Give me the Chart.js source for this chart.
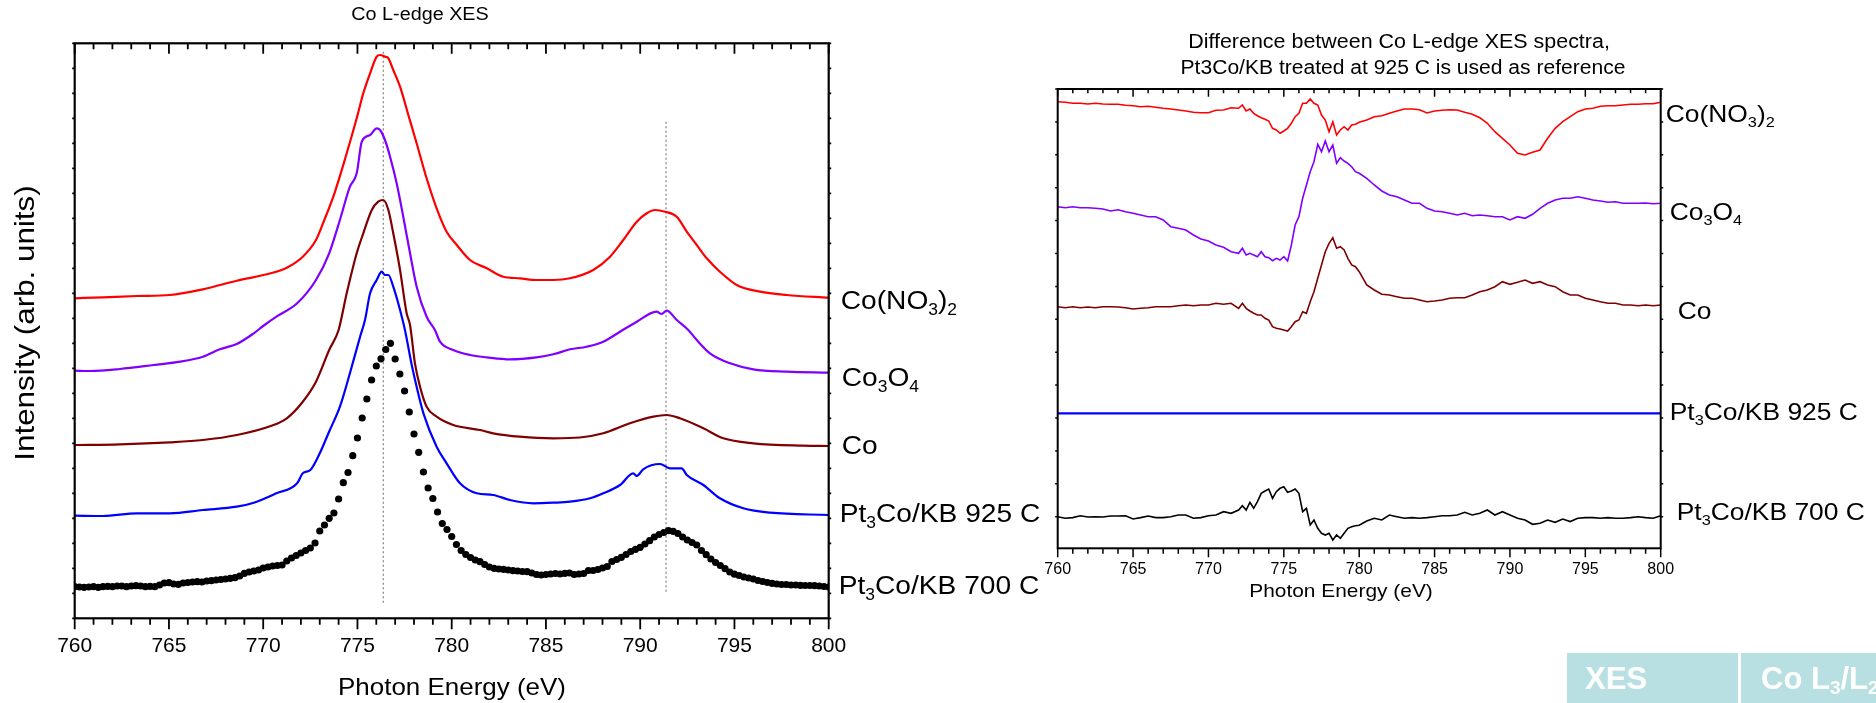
<!DOCTYPE html>
<html>
<head>
<meta charset="utf-8">
<title>Co L-edge XES</title>
<script src="https://cdn.jsdelivr.net/npm/chart.js@4.4.1/dist/chart.umd.min.js"></script>
<style>
  html, body { margin: 0; padding: 0; background: #fff; }
  body { position: relative; width: 1876px; height: 703px; overflow: hidden; font-family: "Liberation Sans", Arial, sans-serif; }
  canvas { position: absolute; left: 0; top: 0; }
  .tag { position: absolute; top: 653px; height: 50px; box-sizing: border-box; background: #b8dfe1; color: #fff;
         font-weight: bold; font-size: 31px; line-height: 52px; white-space: nowrap; overflow: hidden; }
  .tag sub { font-size: 19px; vertical-align: -5px; line-height: 0; }
</style>
</head>
<body>
<canvas id="xesChart" width="1876" height="703"></canvas>
<canvas id="diffChart" width="1876" height="703"></canvas>
<div class="tag" style="left:1567px;width:171px;padding-left:18px;">XES</div>
<div class="tag" style="left:1741px;width:135px;padding-left:20px;">Co L<sub>3</sub>/L<sub>2</sub></div>
<script>
// ---------------- Co L-edge XES spectra (offset for display) ----------------
const seriesNames = ['Co(NO3)2', 'Co3O4', 'Co', 'Pt3Co/KB 925 C', 'Pt3Co/KB 700 C'];

const coNitrateEnergy = [760,761.5,763.3,765.05,766.8,768.6,770.4,771.25,772.1,772.8,773.2,773.72,774.43,774.96,775.31,775.67,776.02,776.2,776.46,776.64,776.9,777.26,777.7,778.14,778.67,779.2,779.73,780.27,780.97,781.86,782.74,783.62,784.51,785.39,786.28,787.51,788.4,789.1,789.82,790.35,790.79,791.32,791.94,792.47,793.0,793.53,794.23,795.12,796.36,797.77,800];
const coNitrateXES = [320.0,321.0,322.3,323.3,329.0,337.6,345.0,350.6,361.6,378.3,396.3,421.6,465.0,500.0,525.0,545.0,561.6,563.3,561.6,560.0,548.3,531.6,503.3,475.0,440.0,410.0,386.6,373.3,358.3,350.0,341.6,340.0,338.3,338.3,340.0,348.3,361.6,378.3,396.6,405.0,408.3,406.6,401.6,386.6,373.3,360.0,346.6,333.3,326.6,323.3,320.6];

const co3o4Energy = [760,760.8,762.4,764.2,765.6,766.8,767.7,768.6,769.5,770.0,770.7,771.8,772.8,773.5,774.07,774.6,774.96,775.23,775.67,776.02,776.2,776.46,776.73,777.08,777.43,777.79,778.14,778.67,779.11,779.38,780.08,780.97,781.86,783.09,784.5,785.39,786.28,787.16,788.04,788.93,789.82,790.87,791.14,791.4,791.94,792.55,793.0,793.7,794.77,796.0,797.77,800];
const co3o4XES = [247.6,247.3,249.3,253.3,256.6,261.6,269.0,274.3,285.0,292.3,301.6,315.0,338.3,365.0,398.3,431.6,445.0,476.6,483.3,490.0,488.3,478.3,461.6,435.0,401.6,365.0,331.6,301.6,288.3,276.6,268.3,263.3,261.0,259.0,261.0,264.0,269.0,271.6,276.6,286.6,296.6,306.6,304.3,307.6,298.3,288.3,278.3,265.0,255.0,249.0,246.6,245.6];

const coMetalEnergy = [760,762.4,765.05,766.8,768.6,770.4,771.25,772.1,772.8,773.5,774.0,774.43,774.96,775.31,775.76,776.1,776.37,776.64,776.9,777.26,777.61,777.79,778.05,778.32,778.67,779.2,780.08,781.5,782.2,783.62,785.39,786.8,788.04,789.46,790.7,791.4,792.11,793.35,794.41,796.0,798.65,800];
const coMetalXES = [173.3,174.0,176.0,178.3,183.3,192.3,200.0,216.6,236.6,268.3,288.3,325.0,365.0,385.0,408.3,416.6,418.3,408.3,385.0,348.3,305.0,293.3,255.0,231.6,211.6,201.6,193.3,188.3,185.0,181.6,180.0,180.8,185.0,195.0,201.6,203.3,200.0,190.0,180.0,175.0,172.6,172.3];

const pt3co925Energy = [760,761.5,763.3,765.05,766.8,768.6,769.5,770.7,771.8,772.1,772.5,773.0,773.5,774.07,774.6,775.14,775.4,775.67,776.02,776.29,776.46,776.64,776.9,777.26,777.52,777.88,778.14,778.5,779.2,779.73,780.44,781.33,782.2,783.09,784.33,785.39,786.28,787.34,788.04,788.93,789.63,789.82,790.16,791.05,791.58,792.2,792.47,793.35,794.23,795.47,796.89,800];
const pt3co925XES = [102.6,102.3,105.0,105.0,108.3,111.6,115.6,125.0,135.0,145.0,148.3,165.0,186.8,211.6,245.0,281.6,298.3,325.0,338.3,346.6,343.3,343.3,331.6,308.3,288.3,253.3,231.6,205.0,171.6,155.0,135.0,125.0,123.3,118.3,115.0,115.6,116.6,120.0,125.0,133.3,145.0,142.3,149.0,154.3,150.0,150.0,143.3,133.3,120.0,110.0,105.6,103.3];

// Pt3Co/KB 700 C, measured on a 0.25 eV grid starting at 760 eV
const pt3co700Start = 760, pt3co700Step = 0.25;
const pt3co700XES = [
  31.6,31.3,31.0,31.3,31.6,31.0,31.6,32.0,31.6,32.3,
  32.3,31.6,32.3,32.6,32.3,31.6,32.0,31.6,33.3,35.3,
  35.6,34.3,34.0,35.3,35.8,36.3,36.6,36.3,37.3,37.6,
  38.3,38.8,39.3,40.0,40.6,42.3,45.0,46.3,47.3,48.3,
  50.3,51.3,52.3,52.8,53.3,57.3,60.3,62.8,65.3,67.8,
  70.3,75.3,87.3,93.3,100.0,105.3,119.3,135.6,145.8,162.6,
  180.3,200.3,219.3,238.3,252.3,259.5,268.8,275.0,259.3,244.3,
  227.3,206.3,184.3,166.0,146.3,130.3,119.8,106.3,94.8,88.8,
  81.8,73.8,67.8,63.8,60.8,58.3,56.6,53.8,51.3,50.0,
  49.3,49.0,48.3,47.6,47.3,46.8,46.6,45.3,43.8,43.3,
  43.8,44.3,44.8,44.3,45.0,45.3,43.8,44.3,44.8,47.8,
  47.8,48.8,50.3,51.8,56.8,58.8,61.0,63.8,66.8,69.0,
  71.0,74.3,77.6,81.3,83.8,85.8,87.6,87.0,84.8,81.3,
  78.3,75.8,73.3,67.8,63.6,59.3,55.8,52.8,49.6,46.3,
  44.1,42.8,41.3,40.3,39.3,37.8,36.8,35.8,35.0,34.3,
  33.8,33.8,33.3,33.3,33.0,32.8,32.8,32.6,32.3,31.8,
  31.3
];

// L3 / L2 peak markers: energy and vertical extent
const peakMarkerEnergy = [776.37, 791.37];
const peakMarkerLow = [15.6, 26.6];
const peakMarkerHigh = [568.3, 496.6];

// label anchor heights (same units as the spectra)
const xesLabelLevel = [316.3, 239.3, 171.3, 103.3, 31.3];

// x-axis tick labels
const energyTicks = [760, 765, 770, 775, 780, 785, 790, 795, 800];

// ---------------- Difference spectra (sample − Pt3Co/KB 925 C, offset) ----------------
const diffEnergy = [760,760.5,761,761.5,762,762.5,763,763.5,764,764.5,765,765.5,766,766.5,767,767.5,768,768.5,769,769.5,770,770.5,771,771.5,772,
  772.25,772.5,772.75,773,773.25,773.5,773.75,774,774.25,774.5,774.75,775,775.25,775.5,775.75,776,776.25,776.5,776.75,777,777.25,777.5,777.75,778,778.25,778.5,778.75,779,779.25,779.5,779.75,780,
  780.5,781,781.5,782,782.5,783,783.5,784,784.5,785,785.5,786,786.5,787,787.5,788,788.5,789,789.5,790,790.5,791,791.5,792,792.5,793,793.5,794,794.5,795,795.5,796,796.5,797,797.5,798,798.5,799,799.5,800];

const coNitrateDiff = [415.0,414.4,413.4,413.4,412.7,413.4,412.7,412.4,412.4,411.4,411.0,410.0,410.4,409.4,408.4,407.7,406.7,405.7,404.4,404.0,404.0,406.4,406.7,409.0,408.4,
  411.7,405.7,407.7,403.4,401.0,399.0,397.4,395.7,388.4,386.7,383.4,385.7,388.4,393.4,400.0,403.4,413.4,413.4,417.7,413.4,411.7,401.7,396.7,385.0,395.0,381.7,386.7,390.0,386.7,391.7,392.4,394.4,
  396.7,400.0,401.0,403.4,405.7,407.7,407.7,407.0,403.7,405.7,406.4,407.0,406.7,404.4,402.4,399.0,393.4,385.0,378.4,371.7,363.4,361.7,364.4,366.7,378.4,388.4,395.0,400.0,405.0,407.7,408.4,410.4,411.0,411.0,411.7,412.4,412.4,413.0,413.0,414.4];

const co3o4Diff = [310.0,309.0,310.0,309.0,309.0,308.4,307.7,305.7,307.0,305.0,303.4,301.7,300.0,300.0,296.7,290.0,288.4,286.7,281.7,277.7,275.7,271.7,269.4,265.0,263.4,
  268.4,261.7,263.4,261.7,260.0,265.0,260.0,259.0,256.0,258.4,256.7,260.0,255.7,271.7,291.7,300.0,318.4,331.7,345.0,355.0,372.4,365.0,375.7,365.0,371.7,353.4,359.0,355.7,353.4,350.0,345.0,343.4,
  338.4,331.7,325.7,321.7,320.0,316.7,313.4,313.4,308.4,305.7,305.0,303.4,301.7,303.4,301.0,301.7,301.0,300.0,300.0,296.7,300.0,298.4,302.4,308.4,313.4,316.7,318.4,318.4,320.0,318.4,316.7,315.7,314.4,315.0,313.4,313.4,313.4,313.7,313.0,313.4];

const coMetalDiff = [210.0,209.0,210.0,209.0,209.7,209.0,210.0,210.0,209.7,209.0,207.7,208.4,209.0,210.0,210.0,210.0,211.0,211.7,211.0,211.7,211.7,213.4,212.4,213.4,208.4,
  213.4,208.4,205.7,203.4,201.7,201.7,198.4,196.7,190.0,188.4,187.7,186.7,185.7,190.0,195.0,196.7,205.0,203.4,215.0,225.0,238.4,251.7,265.0,273.4,279.0,268.4,270.0,266.7,258.4,251.7,250.0,245.0,
  231.7,226.7,222.4,221.7,220.0,218.4,218.4,216.7,215.0,215.7,216.7,218.4,219.0,219.0,221.7,225.0,226.7,230.0,235.0,232.4,234.4,236.7,233.4,235.0,231.7,230.0,225.0,221.7,221.7,218.4,216.7,215.0,213.4,213.4,211.7,211.7,211.0,211.7,211.0,211.7];

// reference sample: zero difference, drawn at its offset
const pt3co925DiffEnergy = [760, 800];
const pt3co925Diff = [103.4, 103.4];

const pt3co700Diff = [0.0,-1.6,-0.9,1.0,-0.3,0.0,-0.3,0.7,0.7,1.0,-2.3,-0.9,0.7,-0.9,-0.9,0.0,1.7,1.7,-1.6,-0.9,1.0,1.7,5.0,3.4,6.7,
  11.0,6.7,14.4,8.4,15.0,23.4,25.7,27.7,18.4,25.0,28.4,30.0,24.4,25.7,27.7,23.4,5.0,8.4,-8.3,-3.3,-11.6,-16.6,-18.3,-16.6,-23.3,-18.3,-21.6,-16.6,-11.6,-10.0,-9.0,-8.6,
  -4.3,-1.6,-3.3,1.7,0.0,-1.6,-0.9,-1.6,-0.9,0.0,1.0,1.0,1.7,4.4,1.7,3.4,6.7,1.7,5.0,1.7,-1.6,-3.3,-7.6,-6.6,-3.3,-5.6,-2.3,-4.9,-1.6,-0.9,-0.9,-1.6,-0.9,-1.6,-1.6,-0.9,0.0,-0.9,-1.6,1.0];

const diffLabelLevel = [401.7, 303.7, 204.7, 103.7, 3.7];

// ---------------- drawing helpers ----------------
const FONT = '"Liberation Sans", Arial, sans-serif';
Chart.defaults.font.family = FONT;
Chart.defaults.color = '#000';

const colors = ['#ff0000', '#8000ff', '#800000', '#0000ff', '#000000'];

function points(xs, ys) { return ys.map((v, i) => ({ x: xs[i], y: v })); }

// split a formula such as "Co(NO3)2" into normal / subscript runs
function chemRuns(text) {
  const runs = [];
  let prev = '';
  for (const ch of text) {
    const sub = /\d/.test(ch) && (/[A-Za-z)]/.test(prev) || (runs.length > 0 && runs[runs.length - 1].sub && /\d/.test(prev)));
    const last = runs[runs.length - 1];
    if (last && last.sub === sub) last.t += ch; else runs.push({ t: ch, sub });
    prev = ch;
  }
  return runs;
}

function drawChem(ctx, text, x, y, size, stretch) {
  ctx.save();
  ctx.translate(x, y);
  ctx.scale(stretch, 1);
  ctx.textAlign = 'left';
  ctx.textBaseline = 'middle';
  ctx.fillStyle = '#000';
  let cx = 0;
  for (const r of chemRuns(text)) {
    const s = r.sub ? size * 0.62 : size;
    ctx.font = `${s}px ${FONT}`;
    ctx.fillText(r.t, cx, r.sub ? size * 0.33 : 0);
    cx += ctx.measureText(r.t).width;
  }
  ctx.restore();
}

const framePlugin = {
  id: 'frame',
  afterDraw(chart, args, o) {
    const { ctx, chartArea: a, scales: { x, y } } = chart;
    ctx.save();
    ctx.strokeStyle = '#000';
    ctx.lineWidth = o.tickWidth;
    ctx.beginPath();
    for (let e = x.min; e <= x.max + 1e-6; e += 1) {
      const px = x.getPixelForValue(e);
      const major = Math.abs(e % 5) < 1e-6;
      ctx.moveTo(px, a.bottom);
      ctx.lineTo(px, a.bottom + (major ? o.bottomMajor : o.bottomMinor));
      ctx.moveTo(px, a.top);
      ctx.lineTo(px, a.top + (major ? o.topMajor : o.topMinor));
    }
    for (let v = o.yTickStart; v <= y.max + 1e-6; v += o.yTickStep) {
      if (v < y.min) continue;
      const py = y.getPixelForValue(v);
      ctx.moveTo(a.left, py); ctx.lineTo(a.left - o.sideTick, py);
      ctx.moveTo(a.right, py); ctx.lineTo(a.right + o.sideTick, py);
    }
    ctx.stroke();
    ctx.lineWidth = o.frameWidth;
    ctx.strokeRect(a.left, a.top, a.right - a.left, a.bottom - a.top);

    o.labels.forEach((lab, i) => {
      drawChem(ctx, lab, a.right + o.labelGap[i], y.getPixelForValue(o.labelLevel[i]), o.labelSize, o.labelStretch);
    });

    for (const t of o.texts) {
      ctx.save();
      ctx.translate(t.x, t.y);
      if (t.rotate) ctx.rotate(t.rotate);
      ctx.scale(t.stretch || 1, 1);
      ctx.font = `${t.size}px ${FONT}`;
      ctx.fillStyle = '#000';
      ctx.textAlign = 'center';
      ctx.textBaseline = 'middle';
      ctx.fillText(t.text, 0, 0);
      ctx.restore();
    }
    ctx.restore();
  }
};

function lineSet(label, xs, ys, color, width, smooth) {
  return {
    label, data: points(xs, ys), showLine: true, borderColor: color, backgroundColor: color,
    borderWidth: width, pointRadius: 0, tension: 0,
    cubicInterpolationMode: smooth ? 'monotone' : 'default'
  };
}

// ---------------- left: XES spectra ----------------
const pt3co700Energy = pt3co700XES.map((_, i) => pt3co700Start + pt3co700Step * i);

const xesSets = [
  lineSet(seriesNames[0], coNitrateEnergy, coNitrateXES, colors[0], 2.2, true),
  lineSet(seriesNames[1], co3o4Energy, co3o4XES, colors[1], 2.2, true),
  lineSet(seriesNames[2], coMetalEnergy, coMetalXES, colors[2], 2.2, true),
  lineSet(seriesNames[3], pt3co925Energy, pt3co925XES, colors[3], 2.2, true),
  {
    label: seriesNames[4], data: points(pt3co700Energy, pt3co700XES), showLine: false,
    pointRadius: 3.6, pointBackgroundColor: '#000', pointBorderWidth: 0, pointStyle: 'circle'
  }
];
peakMarkerEnergy.forEach((e, i) => {
  xesSets.push({
    label: 'marker' + i, data: [{ x: e, y: peakMarkerLow[i] }, { x: e, y: peakMarkerHigh[i] }],
    showLine: true, borderColor: '#808080', borderWidth: 1.2, borderDash: [2, 2.5], pointRadius: 0
  });
});

new Chart(document.getElementById('xesChart'), {
  type: 'scatter',
  data: { datasets: xesSets },
  options: {
    responsive: false, animation: false, devicePixelRatio: 1, events: [],
    layout: { padding: { left: 0, top: 43.3, right: 1047.3, bottom: 0 } },
    plugins: {
      legend: { display: false }, tooltip: { enabled: false },
      frame: {
        tickWidth: 1.8, frameWidth: 2.2,
        bottomMajor: 11, bottomMinor: 6.5, topMajor: 10.5, topMinor: 6,
        yTickStart: 0, yTickStep: 25, sideTick: 2.5,
        labels: seriesNames, labelLevel: xesLabelLevel, labelGap: [12, 13, 13, 11, 10],
        labelSize: 25.6, labelStretch: 1.1,
        texts: [
          { text: 'Co L-edge XES', x: 420, y: 15, size: 17.5, stretch: 1.13 },
          { text: 'Photon Energy (eV)', x: 452, y: 688, size: 23.6, stretch: 1.1 },
          { text: 'Intensity (arb. units)', x: 26, y: 323, size: 28, rotate: -Math.PI / 2, stretch: 1.12 }
        ]
      }
    },
    scales: {
      x: {
        type: 'linear', position: 'bottom', min: 760, max: 800,
        grid: { display: false, drawTicks: false }, border: { display: false },
        afterBuildTicks: (s) => { s.ticks = energyTicks.map(v => ({ value: v })); },
        ticks: { font: { size: 21 }, padding: 15.8, color: '#000', maxRotation: 0, autoSkip: false },
        afterFit: (s) => { s.height = 84.7; }
      },
      y: {
        type: 'linear', position: 'left', min: 0, max: 575,
        grid: { display: false, drawTicks: false }, border: { display: false },
        ticks: { display: false },
        afterFit: (s) => { s.width = 74.7; }
      }
    }
  },
  plugins: [framePlugin]
});

// ---------------- right: difference spectra ----------------
const diffSets = [
  lineSet(seriesNames[0], diffEnergy, coNitrateDiff, colors[0], 1.6, false),
  lineSet(seriesNames[1], diffEnergy, co3o4Diff, colors[1], 1.6, false),
  lineSet(seriesNames[2], diffEnergy, coMetalDiff, colors[2], 1.6, false),
  lineSet(seriesNames[3], pt3co925DiffEnergy, pt3co925Diff, colors[3], 2.2, false),
  lineSet(seriesNames[4], diffEnergy, pt3co700Diff, colors[4], 1.6, false)
];

new Chart(document.getElementById('diffChart'), {
  type: 'scatter',
  data: { datasets: diffSets },
  options: {
    responsive: false, animation: false, devicePixelRatio: 1, events: [],
    layout: { padding: { left: 0, top: 89, right: 215.3, bottom: 0 } },
    plugins: {
      legend: { display: false }, tooltip: { enabled: false },
      frame: {
        tickWidth: 1.5, frameWidth: 2,
        bottomMajor: 9, bottomMinor: 5.5, topMajor: 7.7, topMinor: 4.3,
        yTickStart: 0, yTickStep: 32.9, sideTick: 2.5,
        labels: seriesNames, labelLevel: diffLabelLevel, labelGap: [5, 9, 17, 9, 16],
        labelSize: 24, labelStretch: 1.1,
        texts: [
          { text: 'Difference between Co L-edge XES spectra,', x: 1399, y: 43, size: 19.5, stretch: 1.1 },
          { text: 'Pt3Co/KB treated at 925 C is used as reference', x: 1403, y: 69, size: 19.5, stretch: 1.08 },
          { text: 'Photon Energy (eV)', x: 1341, y: 592, size: 19, stretch: 1.1 }
        ]
      }
    },
    scales: {
      x: {
        type: 'linear', position: 'bottom', min: 760, max: 800,
        grid: { display: false, drawTicks: false }, border: { display: false },
        afterBuildTicks: (s) => { s.ticks = energyTicks.map(v => ({ value: v })); },
        ticks: { font: { size: 16 }, padding: 11.9, color: '#000', maxRotation: 0, autoSkip: false },
        afterFit: (s) => { s.height = 154.7; }
      },
      y: {
        type: 'linear', position: 'left', min: -31.6, max: 427.7,
        grid: { display: false, drawTicks: false }, border: { display: false },
        ticks: { display: false },
        afterFit: (s) => { s.width = 1057.7; }
      }
    }
  },
  plugins: [framePlugin]
});
</script>
</body>
</html>
